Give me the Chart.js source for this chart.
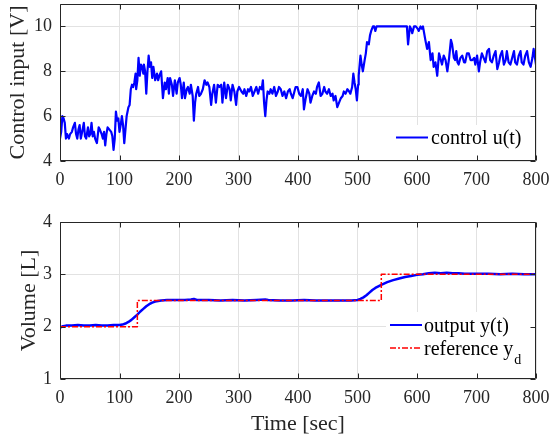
<!DOCTYPE html>
<html>
<head>
<meta charset="utf-8">
<script src="https://cdn.jsdelivr.net/npm/chart.js@4.4.1/dist/chart.umd.min.js"></script>
<style>
  html, body { margin: 0; padding: 0; background: #ffffff; }
  body { width: 551px; height: 435px; overflow: hidden; position: relative; }
  #c1 { position: absolute; left: 0; top: 0; }
  #c2 { position: absolute; left: 0; top: 200px; }
</style>
</head>
<body>
<canvas id="c1" width="551" height="200"></canvas>
<canvas id="c2" width="551" height="235"></canvas>
<script>
// ---------------- data ----------------
const timeU = [0,2,4,6,8,10,12,15,17,20,22,25,27,29,31,33,35,38,40,42,44,47,49,51,53,55,57,59,62,65,67,70,72,74,76,78,80,83,86,88,90,92,94,96,98,100,102,104,106,108,110,112,115,117,119,121,123,125,127,128,130,132,134,136,138,140,141,143,145,147,149,151,153,155,157,160,163,165,167,170,173,176,178,181,183,185,188,190,193,196,198,201,203,205,208,210,213,215,218,220,223,225,227,229,232,234,237,240,243,246,248,251,254,256,259,262,265,268,271,273,276,279,282,285,287,290,293,296,298,301,305,308,310,313,316,318,321,324,327,330,333,336,339,341,343,345,347,349,352,354,357,360,363,366,368,371,374,377,380,383,386,388,391,394,396,399,402,405,408,410,413,416,419,421,424,427,430,432,435,438,441,444,446,449,452,455,458,460,463,466,469,472,475,477,480,483,486,488,491,493,495,497,499,501,502,505,507,509,512,514,516,519,521,523,526,528,530,532,560,583,585,588,590,592,595,598,601,603,606,608,610,612,614,617,620,623,626,628,631,634,637,640,642,645,648,651,654,657,659,662,664,666,668,670,673,676,679,681,684,687,690,693,696,698,701,704,706,709,712,715,718,721,723,726,729,732,735,738,740,743,746,749,751,754,757,760,763,765,768,771,774,776,779,782,785,788,791,794,796,800];
const controlU = [5.0,5.3,6.0,5.9,5.7,5.0,5.2,5.0,5.2,5.3,5.5,5.7,5.2,5.0,5.4,5.6,5.0,5.4,5.7,5.1,5.0,5.5,5.1,5.2,5.7,5.1,5.3,5.0,4.8,5.5,5.4,5.2,5.0,5.3,4.7,5.2,5.5,5.4,5.3,5.1,4.5,5.0,6.2,5.8,5.9,5.3,5.6,6.0,5.6,4.8,5.4,6.0,6.4,6.5,7.2,7.4,7.3,7.5,7.9,7.2,7.6,8.6,7.8,8.3,8.2,7.9,8.3,8.0,7.0,8.0,8.7,8.2,8.4,7.7,8.2,7.6,7.9,7.6,7.8,8.0,6.8,7.5,7.2,7.7,7.0,7.7,7.4,6.9,7.6,7.0,7.5,7.7,7.4,6.8,7.5,6.8,7.2,7.3,7.0,7.4,6.9,5.8,6.6,7.0,7.3,6.9,7.0,7.2,7.6,7.4,7.5,7.3,6.5,7.0,7.4,6.6,7.4,7.3,7.4,6.6,7.5,6.8,7.4,7.2,6.7,7.4,7.1,6.5,7.1,7.3,7.1,7.0,7.2,6.9,7.2,7.1,7.3,6.9,7.1,7.3,7.0,7.3,7.2,7.6,6.6,6.0,6.7,7.1,7.0,7.2,7.0,7.3,6.9,7.1,7.3,7.2,6.9,7.1,6.8,7.1,7.2,7.0,6.8,7.1,7.3,7.3,7.0,6.9,7.2,6.3,6.8,7.2,7.0,6.6,6.9,7.1,7.0,7.3,7.5,6.9,7.0,7.3,7.1,7.0,7.2,6.9,7.0,6.7,6.9,6.4,6.6,6.8,6.9,7.1,7.0,7.2,7.1,7.0,7.3,7.9,7.5,7.2,6.7,7.4,7.8,8.7,8.3,8.0,8.5,8.8,9.3,9.2,9.6,9.8,10.0,10.0,9.8,10.0,10.0,10.0,9.2,10.0,9.9,9.7,10.0,10.0,9.9,9.8,10.0,9.9,10.0,9.7,9.4,9.0,9.3,8.5,8.8,8.2,8.4,7.8,8.8,8.5,8.3,8.7,8.5,8.0,8.6,9.4,9.2,8.6,8.5,8.9,8.4,8.3,8.6,8.7,8.4,8.4,8.8,8.8,8.5,8.5,8.6,8.3,8.7,8.0,8.4,8.8,8.6,8.4,8.9,9.0,8.5,8.4,8.7,8.9,8.1,8.4,8.7,8.9,8.3,8.5,8.9,8.4,8.3,8.6,8.9,8.4,8.3,8.7,8.9,8.4,8.3,8.7,8.9,8.4,8.2,8.6,9.0,8.3];

const timeOut = [0,5,10,20,30,40,50,60,70,80,90,100,105,110,115,120,125,130,135,140,145,150,155,160,165,170,180,190,200,210,220,225,230,250,270,290,310,330,345,350,370,390,410,430,450,470,490,500,505,510,515,520,525,530,535,540,550,560,570,580,590,600,610,620,630,640,650,660,670,680,700,720,740,760,780,800];
const outputY = [1.98,2.01,2.02,2.02,2.03,2.02,2.02,2.03,2.02,2.02,2.03,2.03,2.04,2.06,2.09,2.13,2.18,2.23,2.29,2.34,2.39,2.43,2.46,2.48,2.49,2.50,2.51,2.51,2.51,2.51,2.52,2.53,2.51,2.51,2.50,2.51,2.50,2.51,2.52,2.51,2.50,2.50,2.51,2.50,2.50,2.50,2.50,2.51,2.53,2.56,2.60,2.65,2.70,2.74,2.77,2.80,2.85,2.89,2.92,2.95,2.97,2.99,3.00,3.02,3.03,3.02,3.03,3.02,3.02,3.01,3.01,3.01,3.00,3.01,3.00,3.00];

const timeRef = [0,130,130,540,540,800];
const refY = [2,2,2.5,2.5,3,3];

const xTicks = [0,100,200,300,400,500,600,700,800];
const uTicks = [4,6,8,10];
const volTicks = [1,2,3,4];

// ---------------- styling ----------------
const FONT = "'Liberation Serif', 'Times New Roman', serif";
const INK = '#262626';
const GRID = '#e2e2e2';

function pairs(xs, ys) { return xs.map((x, i) => ({ x: x, y: ys[i] })); }

function drawLegend(ctx, a, lg) {
  const bw = Math.round(a.right) - 1 - lg.left;
  const bh = Math.round(a.bottom) - 1 - lg.top;
  ctx.fillStyle = '#ffffff';
  ctx.fillRect(lg.left, lg.top, bw, bh);
  lg.items.forEach(it => {
    ctx.beginPath();
    ctx.setLineDash(it.dash || []);
    ctx.strokeStyle = it.color;
    ctx.lineWidth = it.width;
    ctx.moveTo(lg.lineX0, it.lineY);
    ctx.lineTo(lg.lineX1, it.lineY);
    ctx.stroke();
    ctx.setLineDash([]);
    ctx.fillStyle = '#000000';
    ctx.font = '20px ' + FONT;
    ctx.textAlign = 'left';
    ctx.textBaseline = 'alphabetic';
    ctx.fillText(it.text, lg.textX, it.baseY);
    if (it.sub) {
      const w = ctx.measureText(it.text).width;
      ctx.font = '14px ' + FONT;
      ctx.fillText(it.sub, lg.textX + w + 1, it.baseY + 9);
    }
  });
}

const framePlugin = {
  id: 'frame',
  afterDatasetsDraw(chart, args, opts) {
    const { ctx, chartArea: a, scales } = chart;
    const x = scales.x, y = scales.y;
    ctx.save();
    if (opts.legend) drawLegend(ctx, a, opts.legend);
    ctx.strokeStyle = INK;
    ctx.lineWidth = 1;
    const L = Math.round(a.left) + 0.5, R = Math.round(a.right) - 0.5;
    const T = Math.round(a.top) + 0.5, B = Math.round(a.bottom) - 0.5;
    ctx.beginPath();
    ctx.rect(L, T, R - L, B - T);
    x.ticks.forEach(t => {
      const px = Math.round(x.getPixelForValue(t.value)) + 0.5;
      ctx.moveTo(px, B); ctx.lineTo(px, B - 5);
      ctx.moveTo(px, T); ctx.lineTo(px, T + 5);
    });
    y.ticks.forEach(t => {
      const py = Math.round(y.getPixelForValue(t.value)) + 0.5;
      ctx.moveTo(L, py); ctx.lineTo(L + 5, py);
      ctx.moveTo(R, py); ctx.lineTo(R - 5, py);
    });
    ctx.stroke();
    ctx.restore();
  }
};

function makeChart(canvas, cfg) {
  return new Chart(canvas, {
    type: 'line',
    data: { datasets: cfg.datasets },
    options: {
      responsive: false,
      animation: false,
      devicePixelRatio: 1,
      layout: { padding: { top: cfg.padTop, right: 15, left: 0, bottom: 0 } },
      elements: { point: { radius: 0 }, line: { tension: 0, borderJoinStyle: 'round' } },
      plugins: {
        legend: { display: false },
        tooltip: { enabled: false },
        frame: { legend: cfg.legend }
      },
      scales: {
        x: {
          type: 'linear', min: 0, max: 800,
          afterBuildTicks: s => { s.ticks = xTicks.map(v => ({ value: v })); },
          afterFit: s => { s.height = cfg.xHeight; s.paddingLeft = 0; s.paddingRight = 0; },
          grid: { color: GRID, lineWidth: 1, drawTicks: false },
          border: { display: false },
          ticks: { font: { family: FONT, size: 18 }, color: INK, padding: 8, maxRotation: 0, autoSkip: false },
          title: cfg.xTitle ? {
            display: true, text: cfg.xTitle, color: INK,
            font: { family: FONT, size: 22, lineHeight: 1 }, padding: { top: 0, bottom: 0 }
          } : { display: false }
        },
        y: {
          type: 'linear', min: cfg.yMin, max: cfg.yMax,
          afterBuildTicks: s => { s.ticks = cfg.yTicks.map(v => ({ value: v })); },
          afterFit: s => { s.width = 60; s.paddingTop = 0; s.paddingBottom = 0; },
          grid: { color: GRID, lineWidth: 1, drawTicks: false },
          border: { display: false },
          ticks: { font: { family: FONT, size: 18 }, color: INK, padding: 8 },
          title: {
            display: true, text: cfg.yTitle, color: INK,
            font: { family: FONT, size: 22 }, padding: { top: cfg.yTitlePad, bottom: 0 }
          }
        }
      }
    },
    plugins: [framePlugin]
  });
}

// ---------------- top chart ----------------
makeChart(document.getElementById('c1'), {
  padTop: 4, xHeight: 39, yMin: 4, yMax: 11, yTicks: uTicks,
  yTitle: 'Control input [V]', yTitlePad: 5,
  datasets: [{
    label: 'control u(t)', data: pairs(timeU, controlU),
    borderColor: '#0000ff', borderWidth: 2.2, fill: false
  }],
  legend: {
    left: 388, top: 125, lineX0: 396, lineX1: 428, textX: 431,
    items: [{ text: 'control u(t)', color: '#0000ff', width: 2, lineY: 137.5, baseY: 144 }]
  }
});

// ---------------- bottom chart ----------------
makeChart(document.getElementById('c2'), {
  padTop: 22, xHeight: 56, yMin: 1, yMax: 4, yTicks: volTicks,
  yTitle: 'Volume [L]', yTitlePad: 16, xTitle: 'Time [sec]',
  datasets: [
    { label: 'reference y_d', data: pairs(timeRef, refY), borderColor: '#ff0000',
      borderWidth: 1.5, borderDash: [6, 2, 2, 2], fill: false, order: 0 },
    { label: 'output y(t)', data: pairs(timeOut, outputY), borderColor: '#0000ff',
      borderWidth: 2.5, fill: false, order: 1 }
  ],
  legend: {
    left: 386, top: 112, lineX0: 390, lineX1: 422, textX: 424,
    items: [
      { text: 'output y(t)', color: '#0000ff', width: 2, lineY: 125, baseY: 132 },
      { text: 'reference y', sub: 'd', color: '#ff0000', width: 1.5, dash: [6, 2, 2, 2], lineY: 148, baseY: 155 }
    ]
  }
});
</script>
</body>
</html>
